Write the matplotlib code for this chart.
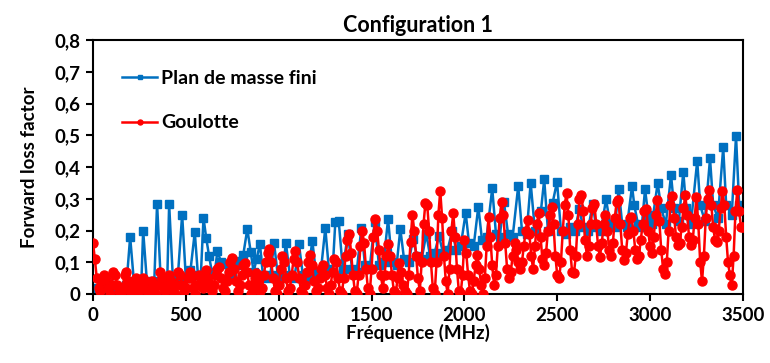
import matplotlib
matplotlib.use("Agg")
import matplotlib.pyplot as plt
import numpy as np

# "Plan de masse fini" (blue): frequency (MHz) / forward loss factor
blue_freq = [0, 30, 60, 100, 130, 160, 180,
             200, 220, 240, 260, 270, 290, 310, 330, 345, 365, 385, 400, 410, 430,
             455, 480, 500, 525, 548, 565, 580, 595, 610, 625, 640, 655, 670, 690,
             711, 730, 750, 779, 795, 809, 831, 849, 865, 881, 899, 915, 935, 955,
             975, 995, 1015, 1039, 1060, 1085, 1109, 1130, 1155, 1181, 1200, 1225,
             1251, 1270, 1290, 1305, 1323, 1345, 1373, 1395, 1420, 1445, 1465, 1490,
             1517, 1540, 1565, 1589, 1610, 1635, 1655, 1675, 1700, 1723, 1745, 1770,
             1795, 1815, 1840, 1863, 1885, 1910, 1935, 1955, 1980, 2007, 2025, 2050,
             2075, 2095, 2120, 2150, 2170, 2190, 2213, 2235, 2260, 2290, 2310, 2335,
             2357, 2380, 2412, 2430, 2450, 2475, 2499, 2520, 2545, 2570, 2595, 2619,
             2640, 2665, 2691, 2710, 2735, 2763, 2785, 2810, 2831, 2850, 2875, 2903,
             2915, 2935, 2955, 2973, 2990, 3010, 3041, 3060, 3085, 3113, 3130, 3155,
             3179, 3195, 3220, 3254, 3270, 3295, 3323, 3340, 3365, 3394, 3410, 3440,
             3463, 3480, 3500]
blue_val = [0.02, 0.01, 0.02, 0.03, 0.01, 0.02, 0.03,
            0.18, 0.04, 0.045, 0.03, 0.20, 0.04, 0.02, 0.04, 0.285, 0.04, 0.03, 0.05, 0.283, 0.05,
            0.04, 0.25, 0.05, 0.075, 0.195, 0.06, 0.05, 0.24, 0.175, 0.12, 0.07, 0.065, 0.135, 0.10,
            0.095, 0.06, 0.05, 0.105, 0.09, 0.123, 0.205, 0.133, 0.07, 0.11, 0.158, 0.06, 0.05, 0.06,
            0.16, 0.06, 0.05, 0.16, 0.06, 0.05, 0.158, 0.06, 0.05, 0.168, 0.07, 0.06,
            0.208, 0.08, 0.07, 0.228, 0.231, 0.08, 0.19, 0.08, 0.07, 0.207, 0.09, 0.08,
            0.228, 0.09, 0.10, 0.236, 0.10, 0.09, 0.205, 0.11, 0.10, 0.173, 0.12, 0.11,
            0.19, 0.12, 0.13, 0.183, 0.13, 0.14, 0.20, 0.14, 0.15, 0.256, 0.16, 0.15,
            0.275, 0.17, 0.18, 0.333, 0.19, 0.18, 0.29, 0.19, 0.18, 0.34, 0.20, 0.19,
            0.35, 0.20, 0.26, 0.361, 0.20, 0.286, 0.354, 0.20, 0.19, 0.21, 0.20, 0.267,
            0.21, 0.20, 0.283, 0.21, 0.20, 0.298, 0.22, 0.21, 0.33, 0.22, 0.21, 0.34,
            0.28, 0.22, 0.21, 0.33, 0.25, 0.22, 0.35, 0.27, 0.22, 0.375, 0.27, 0.23,
            0.385, 0.27, 0.22, 0.42, 0.28, 0.23, 0.427, 0.28, 0.24, 0.462, 0.28, 0.25,
            0.498, 0.28, 0.26]

# "Goulotte" (red): sampled every 10 MHz from 0 to 3500 MHz
red_freq = list(range(0, 3501, 10))
red_val = [
    0.16, 0.11, 0.05, 0.02, 0.01, 0.04, 0.06, 0.05, 0.02, 0.00,
    0.03, 0.07, 0.06, 0.03, 0.01, 0.00, 0.02, 0.06, 0.07, 0.04,
    0.01, 0.00, 0.03, 0.05, 0.03, 0.01, 0.02, 0.05, 0.04, 0.01,
    0.00, 0.02, 0.04, 0.02, 0.00, 0.03, 0.07, 0.05, 0.02, 0.01,
    0.03, 0.06, 0.04, 0.01, 0.00, 0.03, 0.07, 0.06, 0.03, 0.01,
    0.02, 0.05, 0.07, 0.05, 0.02, 0.00, 0.03, 0.06, 0.05, 0.02,
    0.04, 0.075, 0.05, 0.02, 0.01, 0.03, 0.06, 0.08, 0.086, 0.05,
    0.02, 0.01, 0.04, 0.07, 0.10, 0.113, 0.08, 0.04, 0.01, 0.03,
    0.06, 0.09, 0.097, 0.07, 0.03, 0.00, 0.02, 0.05, 0.065, 0.04,
    0.01, 0.02, 0.06, 0.10, 0.13, 0.142, 0.10, 0.05, 0.01, 0.00,
    0.03, 0.08, 0.12, 0.10, 0.05, 0.01, 0.02, 0.06, 0.11, 0.135,
    0.10, 0.05, 0.01, 0.00, 0.03, 0.07, 0.10, 0.123, 0.09, 0.04,
    0.01, 0.02, 0.05, 0.08, 0.09, 0.06, 0.02, 0.00, 0.03, 0.07,
    0.11, 0.10, 0.05, 0.01, 0.00, 0.05, 0.12, 0.17, 0.19, 0.13,
    0.06, 0.01, 0.00, 0.06, 0.15, 0.20, 0.16, 0.08, 0.02, 0.00,
    0.08, 0.18, 0.235, 0.20, 0.14, 0.06, 0.02, 0.06, 0.12, 0.157,
    0.12, 0.06, 0.01, 0.00, 0.05, 0.097, 0.07, 0.03, 0.01, 0.00,
    0.06, 0.165, 0.25, 0.20, 0.12, 0.05, 0.01, 0.10, 0.22, 0.286,
    0.28, 0.20, 0.10, 0.02, 0.00, 0.10, 0.25, 0.325, 0.24, 0.12,
    0.04, 0.00, 0.08, 0.20, 0.254, 0.18, 0.08, 0.01, 0.00, 0.06,
    0.17, 0.13, 0.06, 0.01, 0.00, 0.04, 0.09, 0.123, 0.08, 0.03,
    0.00, 0.05, 0.15, 0.243, 0.18, 0.09, 0.03, 0.06, 0.15, 0.24,
    0.29, 0.25, 0.16, 0.08, 0.05, 0.07, 0.12, 0.16, 0.14, 0.10,
    0.08, 0.10, 0.15, 0.20, 0.233, 0.19, 0.12, 0.08, 0.15, 0.22,
    0.254, 0.18, 0.11, 0.09, 0.13, 0.20, 0.25, 0.275, 0.22, 0.12,
    0.06, 0.05, 0.10, 0.20, 0.28, 0.317, 0.25, 0.14, 0.07, 0.065,
    0.12, 0.22, 0.30, 0.312, 0.26, 0.17, 0.12, 0.15, 0.22, 0.27,
    0.285, 0.22, 0.15, 0.118, 0.16, 0.22, 0.249, 0.20, 0.14, 0.12,
    0.16, 0.24, 0.29, 0.296, 0.22, 0.14, 0.107, 0.13, 0.19, 0.24,
    0.243, 0.20, 0.14, 0.11, 0.12, 0.17, 0.22, 0.26, 0.267, 0.20,
    0.15, 0.13, 0.18, 0.25, 0.296, 0.23, 0.14, 0.08, 0.063, 0.10,
    0.20, 0.28, 0.309, 0.24, 0.18, 0.154, 0.16, 0.21, 0.27, 0.312,
    0.25, 0.18, 0.155, 0.17, 0.24, 0.306, 0.22, 0.10, 0.04, 0.12,
    0.24, 0.30, 0.328, 0.28, 0.21, 0.17, 0.165, 0.20, 0.27, 0.325,
    0.28, 0.18, 0.10, 0.06, 0.028, 0.12, 0.26, 0.328, 0.26, 0.21,
    0.21,
]

x_ticks = [0, 500, 1000, 1500, 2000, 2500, 3000, 3500]
y_ticks = [0, 0.1, 0.2, 0.3, 0.4, 0.5, 0.6, 0.7, 0.8]
y_tick_labels = ["0", "0,1", "0,2", "0,3", "0,4", "0,5", "0,6", "0,7", "0,8"]

plt.rcParams.update({"font.family": ["Lato", "DejaVu Sans"], "font.weight": "bold"})

fig = plt.figure(figsize=(7.7, 3.63), dpi=100)
ax = fig.add_axes([0.1208, 0.19, 0.844, 0.6997])

ax.plot(blue_freq, blue_val, "-s", color="#0070C0", lw=1.8, ms=5.5,
        label="Plan de masse fini", zorder=2)
ax.plot(red_freq, red_val, "-o", color="#FF0000", lw=1.8, ms=6.5,
        label="Goulotte", zorder=3)

ax.set_xlim(0, 3500)
ax.set_ylim(0, 0.8)
ax.set_xticks(x_ticks)
ax.set_xticklabels([str(t) for t in x_ticks])
ax.set_yticks(y_ticks)
ax.set_yticklabels(y_tick_labels)
ax.tick_params(axis="both", direction="out", length=5, width=1.5, labelsize=13.5, pad=4)
for s in ax.spines.values():
    s.set_linewidth(1.5)
    s.set_color("black")

ax.set_title("Configuration 1", fontsize=15.5, fontweight="bold", pad=6)
ax.set_xlabel("Fréquence (MHz)", fontsize=13.5, fontweight="bold", labelpad=0)
ax.set_ylabel("Forward loss factor", fontsize=13.5, fontweight="bold", labelpad=12)

leg = ax.legend(loc="upper left", bbox_to_anchor=(0.018, 0.95), frameon=False,
                fontsize=14, labelspacing=1.4, handlelength=1.8, handletextpad=0.2,
                markerscale=0.55)

fig.savefig("out.png", dpi=100)
